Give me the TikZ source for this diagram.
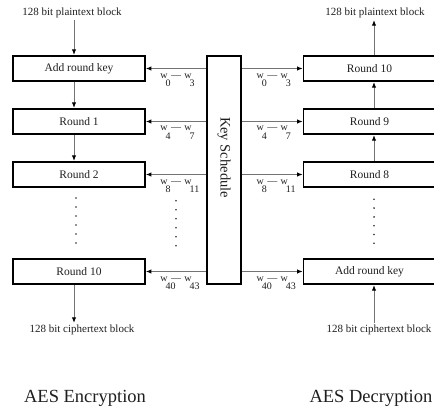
\documentclass[tikz,border=0pt]{standalone}
\usepackage{fontspec}
\setmainfont{Liberation Serif}
\usetikzlibrary{arrows.meta}
\newcommand\wsb[1]{w\kern-2pt\raisebox{-8.5pt}{\rlap{#1}}\kern2pt}
\newcommand\wlab[2]{\wsb{#1}\kern3.5pt—\kern3.5pt\wsb{#2}}
\tikzset{
  txt/.style={text=black!88},
  box/.style={draw, line width=1.8pt, minimum width=132pt, minimum height=25.5pt, inner sep=0pt, txt, font=\fontsize{11.5}{13}\selectfont},
  arr/.style={draw=black!55, line width=0.9pt, -{Latex[length=5.5pt,width=4.5pt,color=black]}},
  lab/.style={anchor=base, yshift=-9.5pt, inner sep=0pt, txt, font=\fontsize{10}{11}\selectfont},
  small/.style={txt, inner sep=2pt, font=\fontsize{11}{12}\selectfont},
  title/.style={txt, inner sep=0pt, font=\fontsize{18.5}{20}\selectfont},
  dot/.style={fill=black!85}
}
\begin{document}
\begin{tikzpicture}[x=1pt, y=-1pt]
\clip (0,0) rectangle (434,412);
% encryption boxes
\node[box] (e0) at (79,68.5) {Add round key};
\node[box] (e1) at (79,121.5) {Round 1};
\node[box] (e2) at (79,174.5) {Round 2};
\node[box] (e10) at (79,271.5) {Round 10};
% decryption boxes
\node[box] (d10) at (369.5,68.5) {Round 10};
\node[box] (d9) at (369.5,121.5) {Round 9};
\node[box] (d8) at (369.5,174.5) {Round 8};
\node[box] (d0) at (369.5,271.5) {Add round key};
% key schedule
\node[draw, line width=1.8pt, minimum width=34pt, minimum height=228pt, inner sep=0pt] (ks) at (224,170) {};
\node[txt, rotate=-90, font=\fontsize{14.5}{16}\selectfont] (ksl) at (224,157.5) {Key Schedule};
% outer labels
\node[small] (p1) at (72,13) {128 bit plaintext block};
\node[small] (p2) at (375,13) {128 bit plaintext block};
\node[small] (c1) at (82,330) {128 bit ciphertext block};
\node[small] (c2) at (379,330) {128 bit ciphertext block};
\node[title] (t1) at (85,398) {AES Encryption};
\node[title, anchor=east] (t2) at (432.5,398) {AES Decryption};
% arrow columns
\coordinate (ax) at (74,0);
\coordinate (bx) at (374,0);
\draw[arr] (p1.south -| ax) -- (e0.north -| ax);
\draw[arr] (e0.south -| ax) -- (e1.north -| ax);
\draw[arr] (e1.south -| ax) -- (e2.north -| ax);
\draw[arr] (e10.south -| ax) -- (c1.north -| ax);
\draw[arr] (d10.north -| bx) -- (p2.south -| bx);
\draw[arr] (d9.north -| bx) -- (d10.south -| bx);
\draw[arr] (d8.north -| bx) -- (d9.south -| bx);
\draw[arr] (c2.north -| bx) -- (d0.south -| bx);
% key arrows left
\draw[arr] (ks.west |- e0.east) -- (e0.east) node[lab, pos=0.5] {\wlab{0}{3}};
\draw[arr] (ks.west |- e1.east) -- (e1.east) node[lab, pos=0.5] {\wlab{4}{7}};
\draw[arr] (ks.west |- e2.east) -- (e2.east) node[lab, pos=0.5] {\wlab{8}{11}};
\draw[arr] (ks.west |- e10.east) -- (e10.east) node[lab, pos=0.5] {\wlab{40}{43}};
% key arrows right
\draw[arr] (ks.east |- d10.west) -- (d10.west) node[lab, pos=0.5] {\wlab{0}{3}};
\draw[arr] (ks.east |- d9.west) -- (d9.west) node[lab, pos=0.5] {\wlab{4}{7}};
\draw[arr] (ks.east |- d8.west) -- (d8.west) node[lab, pos=0.5] {\wlab{8}{11}};
\draw[arr] (ks.east |- d0.west) -- (d0.west) node[lab, pos=0.5] {\wlab{40}{43}};
% dots
\foreach \i in {0,...,5} {
  \fill[dot] (76,198+9*\i) circle (0.9pt);
  \fill[dot] (176,200.7+9*\i) circle (0.9pt);
  \fill[dot] (374,199.3+8.8*\i) circle (0.9pt);
}
\end{tikzpicture}
\end{document}
